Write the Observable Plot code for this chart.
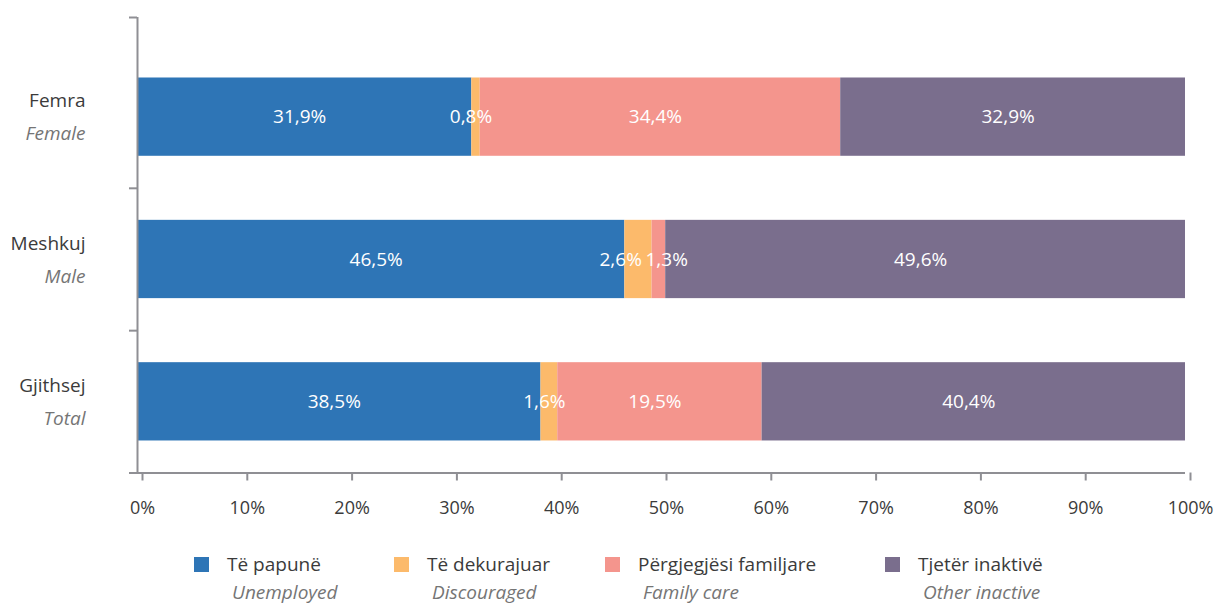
<!DOCTYPE html>
<html>
<head>
<meta charset="utf-8">
<script src="https://cdn.jsdelivr.net/npm/d3@7"></script>
<script src="https://cdn.jsdelivr.net/npm/@observablehq/plot@0.6"></script>
<style>
  body { margin: 0; background: #fff; font-family: "Open Sans", sans-serif; }
  #wrap { position: relative; width: 1219px; height: 607px; }
  .leg { position: absolute; font-size: 19px; color: #3b3b3b; white-space: nowrap; line-height: 20px; }
  .leg.en { font-style: italic; color: #757575; line-height: 19px; }
  .sw { position: absolute; width: 15px; height: 15px; }
</style>
</head>
<body>
<div id="wrap"><div id="chart"></div></div>
<script>
// ---- data ----
const groups = ["Femra", "Meshkuj", "Gjithsej"];
const groupsEn = ["Female", "Male", "Total"];
const series = ["Të papunë", "Të dekurajuar", "Përgjegjësi familjare", "Tjetër inaktivë"];
const seriesEn = ["Unemployed", "Discouraged", "Family care", "Other inactive"];
const colors = ["#2e75b6", "#fcba6b", "#f4958d", "#7a6e8d"];
const femra = [31.9, 0.8, 34.4, 32.9];
const meshkuj = [46.5, 2.6, 1.3, 49.6];
const gjithsej = [38.5, 1.6, 19.5, 40.4];
const xTicks = [0, 10, 20, 30, 40, 50, 60, 70, 80, 90, 100];

// ---- build table ----
const values = [femra, meshkuj, gjithsej];
const nG = groups.length;
const W = 1219, mL = 137, mR = 34;
const pxPerUnit = (W - mL - mR) / 100;
const labelFont = 19;
const fmt = v => v.toFixed(1).replace(".", ",") + "%";
const estW = s => s.length * labelFont * 0.5;

const rows = [];
groups.forEach((g, gi) => {
  const pos = nG - 1 - gi; // Femra on top
  let acc = 0;
  const grp = [];
  values[gi].forEach((v, si) => {
    const r = {group: g, series: series[si], value: v, x1: acc, x2: acc + v,
               y1: pos + 0.225, y2: pos + 0.775, yc: pos + 0.5, nudge: 0};
    r.cx = (r.x1 + r.x2) / 2 * pxPerUnit;
    r.w = estW(fmt(v));
    grp.push(r);
    acc += v;
  });
  // simple collision avoidance between neighbouring labels
  for (let i = 0; i < grp.length - 1; i++) {
    const a = grp[i], b = grp[i + 1];
    const need = a.w / 2 + b.w / 2 + 8;
    const have = (b.cx + b.nudge) - (a.cx + a.nudge);
    if (have < need) {
      const s = (need - have) / 2;
      a.nudge -= s; b.nudge += s;
    }
  }
  rows.push(...grp);
});
const groupRows = groups.map((g, gi) => ({group: g, en: groupsEn[gi], yc: nG - 1 - gi + 0.5}));
const axisColor = "#8f8f94";

const H = 540;
const plot = Plot.plot({
  width: W,
  height: H,
  marginLeft: mL,
  marginRight: mR,
  marginTop: 17,
  marginBottom: H - 472.5,
  style: {fontFamily: "Open Sans, sans-serif", background: "#fff"},
  x: {domain: [0, 100]},
  y: {domain: [0, 3.2]},
  color: {domain: series, range: colors},
  marks: [
    Plot.rect(rows, {x1: "x1", x2: "x2", y1: "y1", y2: "y2", fill: "series"}),
    ...rows.map(r => Plot.text([r], {x: d => (d.x1 + d.x2) / 2, y: "yc", text: d => fmt(d.value),
                     fill: "white", fontSize: labelFont, dx: -5 + r.nudge})),
    Plot.ruleX([0], {stroke: axisColor, strokeWidth: 2}),
    Plot.ruleY([0], {stroke: axisColor, strokeWidth: 2}),
    Plot.axisY([0, 1, 2, 3.2], {tickFormat: () => "", tickSize: 8, stroke: axisColor, strokeWidth: 2, strokeOpacity: 1, label: null}),
    Plot.axisX(xTicks, {tickFormat: d => d + "%", tickSize: 8, tickPadding: 20, stroke: axisColor,
                        strokeWidth: 2, strokeOpacity: 1, fill: "#3b3b3b", fontSize: 18, dx: 5, label: null}),
    Plot.text(groupRows, {x: 0, y: "yc", text: "group", textAnchor: "end", dx: -52, dy: -16,
                          fill: "#3b3b3b", fontSize: 19}),
    Plot.text(groupRows, {x: 0, y: "yc", text: "en", textAnchor: "end", dx: -52, dy: 17,
                          fill: "#757575", fontSize: 19, fontStyle: "italic"})
  ]
});
document.getElementById("chart").appendChild(plot);

// ---- legend (HTML, below the SVG) ----
const wrap = document.getElementById("wrap");
const legX = [194, 394, 605, 885];
series.forEach((s, i) => {
  const sw = document.createElement("div");
  sw.className = "sw";
  sw.style.left = legX[i] + "px";
  sw.style.top = "557px";
  sw.style.background = colors[i];
  wrap.appendChild(sw);
  const t = document.createElement("div");
  t.className = "leg";
  t.textContent = s;
  t.style.left = (legX[i] + 33) + "px";
  t.style.top = "554px";
  wrap.appendChild(t);
  const e = document.createElement("div");
  e.className = "leg en";
  e.textContent = seriesEn[i];
  e.style.left = (legX[i] + 38) + "px";
  e.style.top = "583px";
  wrap.appendChild(e);
});
</script>
</body>
</html>
